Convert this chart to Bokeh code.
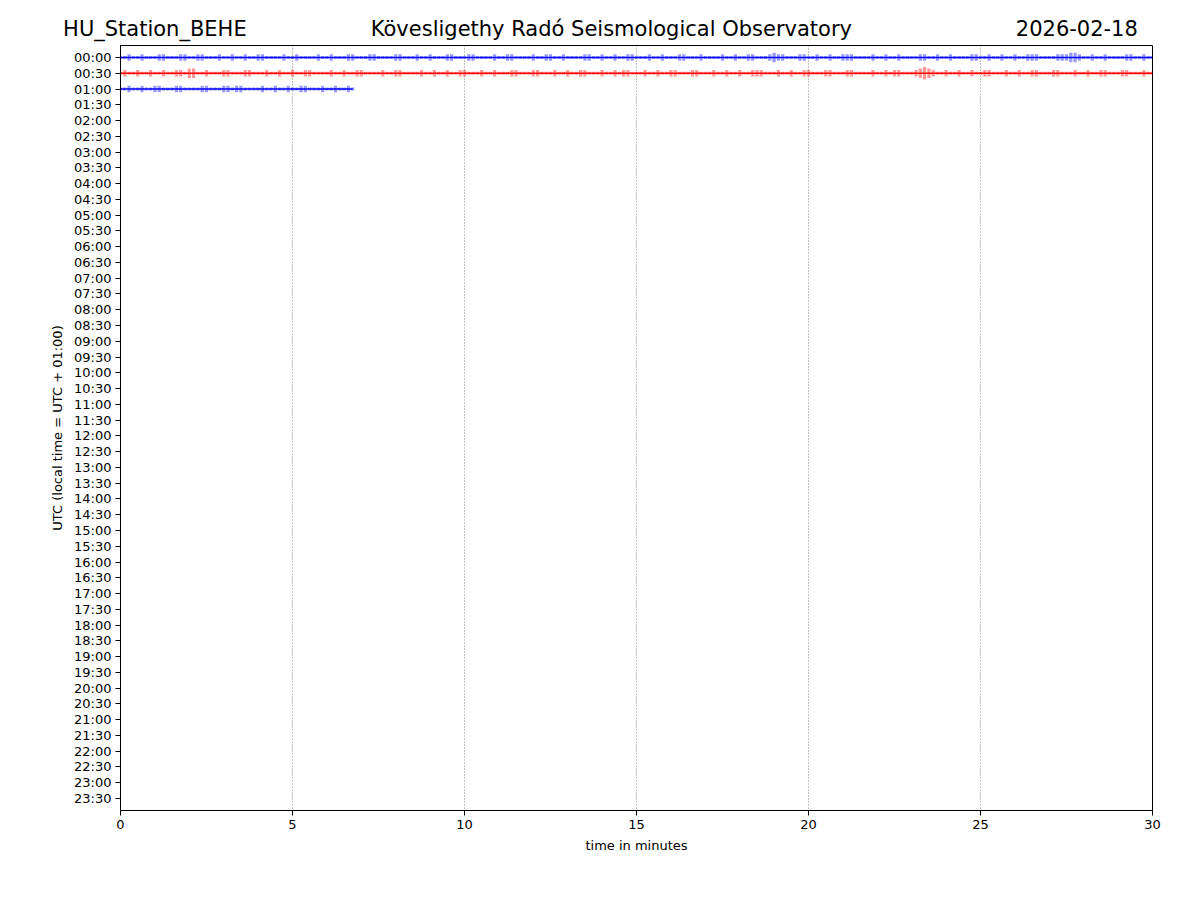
from bokeh.plotting import figure
from bokeh.models import Range1d, FixedTicker, LinearAxis
from bokeh.embed import file_html
from bokeh.resources import INLINE

# ---------------- data ----------------
station = "HU_Station_BEHE"
observatory = "Kövesligethy Radó Seismological Observatory"
date_str = "2026-02-18"

row_labels = ["00:00", "00:30", "01:00", "01:30", "02:00", "02:30", "03:00", "03:30",
              "04:00", "04:30", "05:00", "05:30", "06:00", "06:30", "07:00", "07:30",
              "08:00", "08:30", "09:00", "09:30", "10:00", "10:30", "11:00", "11:30",
              "12:00", "12:30", "13:00", "13:30", "14:00", "14:30", "15:00", "15:30",
              "16:00", "16:30", "17:00", "17:30", "18:00", "18:30", "19:00", "19:30",
              "20:00", "20:30", "21:00", "21:30", "22:00", "22:30", "23:00", "23:30"]
x_ticks = [0, 5, 10, 15, 20, 25, 30]
sample_step_min = 0.125  # minutes between plotted samples

# trace envelope amplitudes (normalised counts), one list per 30-minute row
trace_0000 = [1, 1, 2, 1, 1, 2, 1, 1, 1, 2, 2, 1, 1, 1, 2, 2, 1, 1, 2, 2,
              1, 1, 1, 2, 1, 1, 2, 1, 1, 2, 1, 1, 2, 2, 1, 1, 1, 1, 2, 1,
              1, 2, 1, 1, 1, 1, 2, 1, 1, 2, 1, 1, 1, 2, 2, 1, 1, 1, 2, 2,
              1, 1, 1, 1, 2, 2, 1, 1, 1, 2, 1, 1, 2, 1, 1, 1, 2, 2, 1, 1,
              1, 2, 2, 1, 1, 1, 1, 2, 1, 1, 2, 2, 1, 1, 1, 1, 2, 1, 1, 2,
              2, 1, 1, 2, 1, 1, 1, 1, 2, 2, 1, 1, 2, 1, 1, 2, 1, 1, 2, 2,
              1, 1, 1, 2, 1, 1, 2, 1, 1, 1, 2, 2, 1, 1, 1, 2, 1, 1, 1, 1,
              2, 1, 1, 2, 1, 1, 2, 2, 1, 1, 1, 2, 3, 2, 2, 1, 1, 1, 2, 2,
              1, 1, 2, 1, 1, 2, 1, 1, 2, 2, 2, 1, 1, 1, 1, 2, 1, 1, 2, 1,
              1, 2, 1, 1, 1, 1, 2, 2, 1, 1, 2, 1, 1, 2, 1, 1, 1, 1, 2, 2,
              1, 1, 2, 1, 1, 2, 1, 1, 2, 1, 1, 2, 2, 2, 1, 1, 1, 1, 2, 2,
              2, 3, 3, 2, 1, 1, 2, 1, 1, 2, 1, 1, 1, 1, 2, 2, 1, 1, 2, 1,
              1]
trace_0030 = [1, 2, 1, 1, 2, 1, 1, 2, 1, 1, 2, 1, 1, 2, 2, 1, 3, 3, 1, 1,
              2, 1, 1, 1, 2, 2, 1, 1, 1, 2, 2, 1, 1, 1, 2, 1, 1, 2, 1, 1,
              2, 1, 1, 2, 2, 1, 1, 1, 1, 2, 1, 1, 2, 1, 1, 2, 2, 1, 1, 1,
              1, 2, 1, 1, 2, 2, 1, 1, 1, 1, 2, 1, 1, 2, 1, 1, 2, 1, 1, 2,
              2, 1, 1, 1, 2, 1, 1, 2, 1, 1, 1, 2, 2, 1, 1, 1, 2, 2, 1, 1,
              1, 2, 1, 1, 2, 1, 1, 2, 2, 1, 1, 1, 2, 1, 1, 2, 1, 2, 2, 1,
              1, 1, 2, 1, 1, 2, 1, 1, 2, 2, 1, 1, 1, 2, 2, 1, 1, 1, 2, 1,
              1, 2, 1, 1, 2, 1, 1, 2, 2, 2, 1, 1, 1, 2, 1, 1, 2, 1, 1, 2,
              2, 1, 1, 1, 2, 2, 1, 1, 1, 2, 2, 1, 1, 1, 1, 2, 1, 1, 2, 1,
              2, 2, 1, 1, 1, 2, 3, 4, 3, 2, 1, 1, 2, 1, 1, 2, 1, 1, 2, 1,
              1, 2, 2, 1, 1, 1, 2, 1, 1, 2, 1, 1, 2, 2, 1, 1, 1, 2, 2, 1,
              1, 1, 2, 1, 1, 2, 1, 1, 2, 2, 1, 1, 1, 2, 2, 1, 1, 1, 2, 1,
              1]
trace_0100 = [1, 1, 2, 1, 1, 2, 1, 1, 2, 2, 1, 1, 1, 2, 2, 1, 1, 1, 1, 2,
              2, 1, 1, 1, 2, 2, 1, 2, 2, 1, 1, 1, 1, 2, 1, 1, 2, 1, 1, 2,
              1, 1, 2, 2, 1, 1, 1, 2, 1, 1, 2, 1, 1, 2, 1]

traces = [(0, trace_0000, "#0000ff"), (1, trace_0030, "#ff0000"), (2, trace_0100, "#0000ff")]

# header texts placed as labels of an axis above the frame (minutes positions)
header_texts = [station, observatory, date_str]
header_pos_min = [1.0, 14.27, 27.8]

FONT = "DejaVu Sans"
n_rows = len(row_labels)

p = figure(width=1184, height=884, output_backend="svg", toolbar_location=None,
           x_range=Range1d(0, 30), y_range=Range1d(n_rows - 1 + 0.76, -0.76),
           min_border_left=120, min_border_right=32, min_border_top=45, min_border_bottom=74)

amp_scale = 0.1
for row, amps, col in traces:
    xs = [i * sample_step_min for i in range(len(amps))]
    tops = [row - a * amp_scale for a in amps]
    bots = [row + a * amp_scale for a in amps]
    p.vbar(x=xs, top=tops, bottom=bots, width=sample_step_min * 0.75,
           fill_color=col, fill_alpha=0.4, line_color=None)
    p.line([xs[0], xs[-1]], [row, row], line_color=col, line_width=1.5)

# axes
p.xaxis.ticker = FixedTicker(ticks=x_ticks)
p.yaxis.ticker = FixedTicker(ticks=list(range(n_rows)))
p.yaxis.major_label_overrides = {i: lab for i, lab in enumerate(row_labels)}
p.xaxis.axis_label = "time in minutes"
p.yaxis.axis_label = "UTC (local time = UTC + 01:00)"
for ax in (p.xaxis, p.yaxis):
    ax.major_label_text_font = FONT
    ax.major_label_text_font_size = "13px"
    ax.major_label_text_color = "black"
    ax.axis_label_text_font = FONT
    ax.axis_label_text_font_size = "13px"
    ax.axis_label_text_font_style = "normal"
    ax.axis_label_text_color = "black"
    ax.major_tick_out = 5
    ax.major_tick_in = 0
    ax.minor_tick_line_color = None
    ax.axis_line_color = "black"
    ax.major_tick_line_color = "black"
    ax.major_label_standoff = 4
p.xaxis.axis_label_standoff = 6
p.yaxis.axis_label_standoff = 6

# header line: station | observatory | date
hdr_axis = LinearAxis(ticker=FixedTicker(ticks=header_pos_min),
                      major_label_overrides={t: s for t, s in zip(header_pos_min, header_texts)})
hdr_axis.axis_line_color = None
hdr_axis.major_tick_line_color = None
hdr_axis.minor_tick_line_color = None
hdr_axis.major_tick_out = 0
hdr_axis.major_tick_in = 0
hdr_axis.major_label_standoff = 5
hdr_axis.major_label_text_font = FONT
hdr_axis.major_label_text_font_size = "21px"
hdr_axis.major_label_text_color = "black"
p.add_layout(hdr_axis, "above")

p.xgrid.grid_line_color = "black"
p.xgrid.grid_line_width = 0.5
p.xgrid.grid_line_dash = "1 2"
p.ygrid.grid_line_color = None
p.outline_line_color = "black"
p.outline_line_alpha = 1.0
p.outline_line_width = 1

open("out.html", "w").write(file_html(p, INLINE))
